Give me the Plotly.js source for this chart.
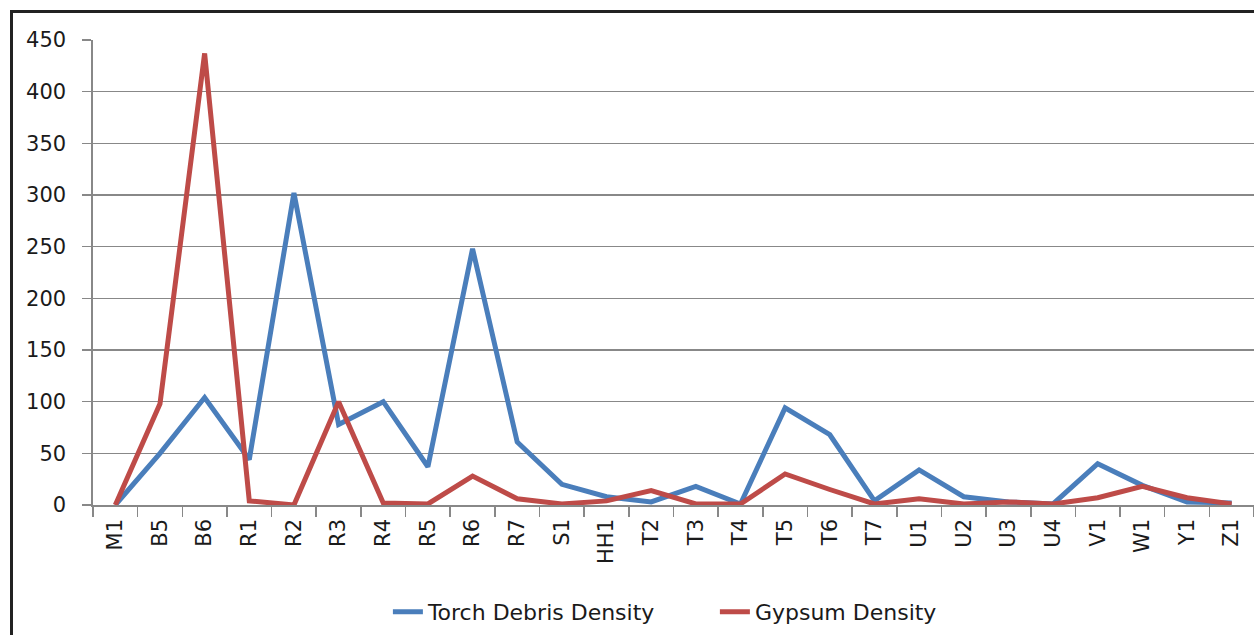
<!DOCTYPE html>
<html>
<head>
<meta charset="utf-8">
<script src="https://cdn.plot.ly/plotly-3.0.1.min.js"></script>
<style>
  html, body { margin: 0; padding: 0; background: #ffffff; }
  #wrap { position: relative; width: 1254px; height: 635px; overflow: hidden; }
  #chart { width: 1254px; height: 635px; }
  #frame { position: absolute; left: 10px; top: 10px; width: 1300px; height: 700px;
           border-left: 3px solid #222; border-top: 3px solid #222; pointer-events: none; }
</style>
</head>
<body>
<div id="wrap">
  <div id="chart"></div>
  <div id="frame"></div>
</div>
<script>
const categories = ["M1","B5","B6","R1","R2","R3","R4","R5","R6","R7","S1","HH1","T2","T3","T4","T5","T6","T7","U1","U2","U3","U4","V1","W1","Y1","Z1"];
const torchDebrisDensity = [0, 50, 104, 44, 302, 78, 100, 37, 248, 61, 20, 8, 3, 18, 1, 94, 68, 4, 34, 8, 3, 1, 40, 19, 3, 2];
const gypsumDensity = [0, 98, 437, 4, 0, 100, 2, 1, 28, 6, 1, 4, 14, 1, 1, 30, 15, 1, 6, 1, 3, 1, 7, 18, 7, 1];
const yTicks = [0, 50, 100, 150, 200, 250, 300, 350, 400, 450];

const fontFam = "DejaVu Sans, Verdana, sans-serif";

const traces = [
  { x: categories, y: torchDebrisDensity, type: "scatter", mode: "lines",
    name: "Torch Debris Density",
    line: { color: "#4a7ebb", width: 5, shape: "linear" } },
  { x: categories, y: gypsumDensity, type: "scatter", mode: "lines",
    name: "Gypsum Density",
    line: { color: "#be4b48", width: 5, shape: "linear" } }
];

const layout = {
  width: 1254, height: 635,
  margin: { l: 93, r: 0, t: 40, b: 130, pad: 0 },
  paper_bgcolor: "#ffffff", plot_bgcolor: "#ffffff",
  font: { family: fontFam, size: 21, color: "#1a1a1a" },
  showlegend: true,
  legend: {
    orientation: "h", x: 0.254, xanchor: "left", y: -0.23, yanchor: "middle",
    font: { family: fontFam, size: 22, color: "#1a1a1a" },
    bgcolor: "rgba(0,0,0,0)", itemwidth: 30,
    entrywidth: 282, entrywidthmode: "pixels"
  },
  xaxis: {
    type: "category",
    categoryorder: "array", categoryarray: categories,
    range: [-0.5, categories.length - 0.5],
    showgrid: false, zeroline: false,
    showline: true, linecolor: "#888888", linewidth: 1.6,
    ticks: "outside", ticklen: 10, tickwidth: 1.6, tickcolor: "#888888",
    tickson: "boundaries",
    tickangle: -90, ticklabelstandoff: 4,
    tickfont: { family: fontFam, size: 21, color: "#1a1a1a" },
    fixedrange: true
  },
  yaxis: {
    range: [0, 450],
    tickmode: "array", tickvals: yTicks, ticktext: yTicks.map(String),
    showgrid: true, gridcolor: "#888888", gridwidth: 1.6,
    zeroline: false,
    showline: true, linecolor: "#888888", linewidth: 1.6,
    ticks: "outside", ticklen: 9, tickwidth: 1.6, tickcolor: "#888888",
    ticklabelstandoff: 12,
    tickfont: { family: fontFam, size: 21, color: "#1a1a1a" },
    fixedrange: true
  }
};

Plotly.newPlot("chart", traces, layout, { displayModeBar: false, staticPlot: true });
</script>
</body>
</html>
